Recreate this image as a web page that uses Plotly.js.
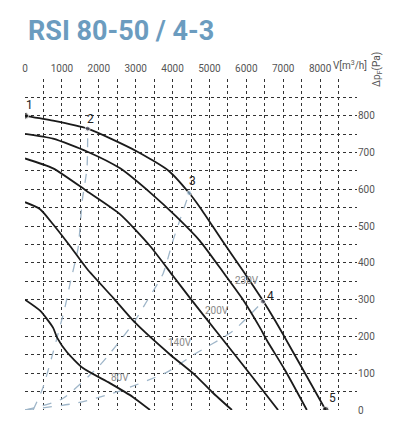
<!DOCTYPE html>
<html>
<head>
<meta charset="utf-8">
<script src="https://cdn.plot.ly/plotly-3.0.1.min.js"></script>
<style>
  html, body { margin: 0; padding: 0; background: #fff; }
  #chart { width: 400px; height: 431px; }
</style>
</head>
<body>
<div id="chart"></div>
<script>
// grid positions and tick labels
const xGridVals = [0, 500, 1000, 1500, 2000, 2500, 3000, 3500, 4000, 4500, 5000, 5500, 6000, 6500, 7000, 7500, 8000, 8500, 9000];
const xTickText = ['0', '', '1000', '', '2000', '', '3000', '', '4000', '', '5000', '', '6000', '', '7000', '', '8000', '', ''];
const yGridVals = [0, 50, 100, 150, 200, 250, 300, 350, 400, 450, 500, 550, 600, 650, 700, 750, 800, 850, 900];
const yTickText = ['0', '', '100', '', '200', '', '300', '', '400', '', '500', '', '600', '', '700', '', '800', '', ''];

// fan curves, V [m3/h] vs dp [Pa]
const curveA_V = [0, 760, 1700, 3000, 3900, 4450, 4750, 5350, 5900, 6400, 6800, 7000, 7450, 8150];
const curveA_P = [800, 787, 765, 705, 650, 590, 550, 460, 380, 305, 240, 205, 125, 0];
const curveB_V = [0, 760, 1680, 2580, 3440, 4090, 4740, 5370, 5910, 6370, 6560, 7050, 7640];
const curveB_P = [751, 738, 703, 657, 587, 527, 460, 375, 300, 224, 189, 108, 0];
const curveC_V = [0, 760, 1680, 2580, 3390, 4010, 4470, 5200, 6100, 6860];
const curveC_P = [684, 657, 595, 532, 446, 365, 305, 212, 98, 0];
const curveD_V = [0, 410, 760, 1220, 1680, 2390, 2980, 3930, 4610, 5070, 5610];
const curveD_P = [565, 546, 505, 446, 384, 305, 238, 151, 95, 49, 0];
const curveE_V = [0, 410, 760, 870, 1140, 1570, 2300, 2930, 3390];
const curveE_P = [300, 270, 224, 197, 157, 114, 73, 35, 0];

// system curves (dashed)
const sys2_V = [220, 490, 1080, 1220, 1440, 1550, 1680, 1700];
const sys2_P = [0, 62, 278, 343, 441, 568, 657, 765];
const sys3_V = [0, 1000, 2030, 2930, 3310, 3740, 4010, 4450];
const sys3_P = [0, 30, 122, 235, 297, 370, 460, 590];
const sys4_V = [0, 1410, 2490, 3850, 4550, 5640, 6450];
const sys4_P = [0, 19, 49, 103, 149, 215, 295];

// working points
const pointNames = ['1', '2', '3', '4', '5'];
const pointV = [0, 1700, 4450, 6450, 8150];
const pointP = [800, 765, 590, 295, 0];

// voltage labels
const voltLabels = ['80V', '140V', '200V', '230V'];
const voltV = [2575, 4200, 5200, 6016];
const voltP = [89, 184, 270, 351];

const fanLine = { color: '#1a1a1a', width: 1.8, shape: 'spline', smoothing: 0.6 };
const sysLine = { color: '#9fb6c9', width: 1.3, dash: 'dash', shape: 'spline', smoothing: 0.6 };

const fan = (x, y) => ({ x: x, y: y, type: 'scatter', mode: 'lines', line: fanLine, hoverinfo: 'skip' });
const sys = (x, y) => ({ x: x, y: y, type: 'scatter', mode: 'lines', line: sysLine, hoverinfo: 'skip' });

const traces = [
  sys(sys2_V, sys2_P),
  sys(sys3_V, sys3_P),
  sys(sys4_V, sys4_P),
  fan(curveA_V, curveA_P),
  fan(curveB_V, curveB_P),
  fan(curveC_V, curveC_P),
  fan(curveD_V, curveD_P),
  fan(curveE_V, curveE_P),
  {
    x: pointV, y: pointP, type: 'scatter', mode: 'markers',
    marker: {
      size: [7, 5, 5, 5, 7],
      color: ['#111', '#556', '#8fb3cf', '#556', '#111']
    },
    hoverinfo: 'skip'
  }
];

const labelFont = { family: 'Liberation Sans Narrow, Roboto, sans-serif', size: 10, color: '#555' };

// offsets of the point numbers from their marker (pixels)
const pointShiftX = [4, 3, 3, 8, 7];
const pointShiftY = [11, 10, 12, 6, 12];

const annotations = [];
pointNames.forEach((n, i) => {
  annotations.push({
    x: pointV[i], y: pointP[i], xref: 'x', yref: 'y', text: n, showarrow: false,
    xshift: pointShiftX[i], yshift: pointShiftY[i],
    font: { family: 'Roboto, sans-serif', size: 12, color: '#222' }
  });
});
voltLabels.forEach((t, i) => {
  annotations.push({
    x: voltV[i], y: voltP[i], xref: 'x', yref: 'y', text: t, showarrow: false,
    font: { family: 'Liberation Sans Narrow, Roboto, sans-serif', size: 10, color: '#8a8a8a' }
  });
});
annotations.push({
  x: 8800, y: 1, xref: 'x', yref: 'paper', yanchor: 'bottom', yshift: 6,
  text: 'V[m<sup>3</sup>/h]', showarrow: false, font: labelFont
});
annotations.push({
  x: 1.06, y: 1.03, xref: 'paper', yref: 'paper', textangle: -90,
  xanchor: 'center', yanchor: 'middle',
  text: 'Δp<sub>F</sub>(Pa)', showarrow: false, font: labelFont
});

const layout = {
  width: 400,
  height: 431,
  margin: { l: 25, r: 43, t: 79, b: 21 },
  paper_bgcolor: '#fff',
  plot_bgcolor: '#fff',
  showlegend: false,
  title: {
    text: '<b>RSI 80-50 / 4-3</b>',
    xref: 'container', yref: 'container',
    x: 0.07, xanchor: 'left', y: 0.93, yanchor: 'middle',
    font: { family: 'Roboto, sans-serif', size: 27, color: '#6b9cbf' }
  },
  xaxis: {
    range: [0, 9000], side: 'top',
    tickmode: 'array', tickvals: xGridVals, ticktext: xTickText,
    showgrid: true, gridcolor: '#333', griddash: 'dot', gridwidth: 1,
    zeroline: false, showline: false, ticks: '',
    ticklabelstandoff: 4,
    tickfont: labelFont
  },
  yaxis: {
    range: [0, 900], side: 'right',
    tickmode: 'array', tickvals: yGridVals, ticktext: yTickText,
    showgrid: true, gridcolor: '#333', griddash: 'dot', gridwidth: 1,
    zeroline: false, showline: false, ticks: '',
    tickfont: labelFont
  },
  annotations: annotations
};

Plotly.newPlot('chart', traces, layout, { staticPlot: true, displayModeBar: false });
</script>
</body>
</html>
